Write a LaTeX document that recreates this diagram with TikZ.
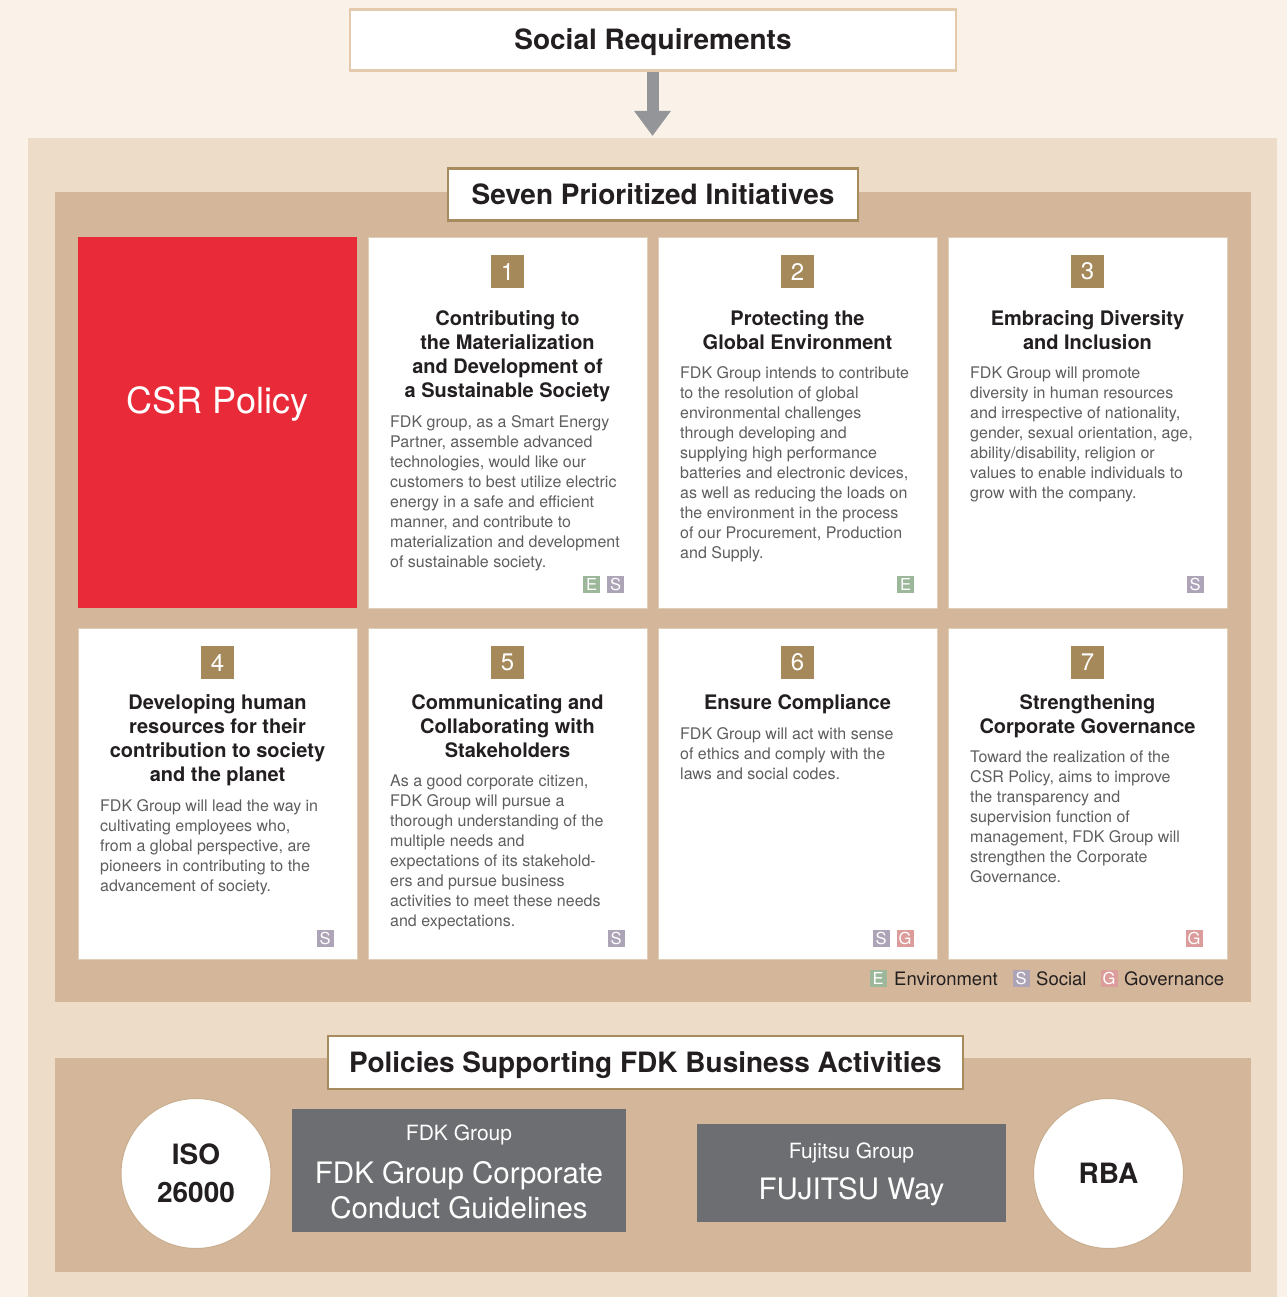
\documentclass[tikz,border=0pt]{standalone}
\usepackage{fontspec}
\setmainfont{TeX Gyre Heros}
\usetikzlibrary{arrows.meta}
\definecolor{bgc}{HTML}{FAF2E8}
\definecolor{outerc}{HTML}{EDDCC8}
\definecolor{tanc}{HTML}{D4B79A}
\definecolor{brownc}{HTML}{A78A5E}
\definecolor{srborder}{HTML}{E3CAAD}
\definecolor{arrowc}{HTML}{939598}
\definecolor{redc}{HTML}{E92A38}
\definecolor{badgec}{HTML}{A6895A}
\definecolor{grayboxc}{HTML}{6D6E71}
\definecolor{ecol}{HTML}{9DB79B}
\definecolor{scol}{HTML}{ADA4B7}
\definecolor{gcol}{HTML}{DC9C9C}
\definecolor{bodyc}{HTML}{5E5E5E}
\definecolor{titlec}{HTML}{231F20}
\definecolor{cardborder}{HTML}{DFCDB7}
\definecolor{circborder}{HTML}{C9AD8E}
\tikzset{
  card/.style={draw=cardborder, line width=1.2pt, fill=white, anchor=north west, minimum width=279pt, minimum height=371pt, inner sep=0pt},
  cardlow/.style={card, minimum height=331pt},
  badge/.style={fill=badgec, minimum size=33pt, inner sep=0pt, text=white, font=\fontsize{24}{24}\selectfont},
  ctitle/.style={anchor=north, inner sep=0pt, align=center, text=titlec, font=\bfseries\fontsize{20}{24}\selectfont},
  body/.style={anchor=north west, inner sep=0pt, align=left, text=bodyc, font=\fontsize{16}{20}\selectfont},
  tag/.style={minimum size=17pt, inner sep=0pt, text height=11.5pt, text depth=0pt, text=white, font=\fontsize{16.5}{16.5}\selectfont},
  legtext/.style={anchor=west, inner sep=0pt, text=titlec, font=\fontsize{18.5}{20}\selectfont},
  headbox/.style={fill=white, draw=brownc, line width=2.5pt, inner sep=0pt, text height=20pt, text depth=0pt, text=titlec, font=\bfseries\fontsize{28}{30}\selectfont},
  graybox/.style={fill=grayboxc, inner sep=0pt, anchor=north west},
  circ/.style={circle, fill=white, draw=circborder, line width=1pt, minimum size=150pt, inner sep=0pt, align=center, text=titlec, font=\bfseries\fontsize{28}{38}\selectfont},
  bigarrow/.style={draw=arrowc, line width=12pt, -{Triangle[width=35pt,length=25pt]}}
}
\begin{document}
\begin{tikzpicture}[x=1pt,y=-1pt]
\useasboundingbox (0,0) rectangle (1287,1297);
\fill[bgc] (0,0) rectangle (1287,1297);
% panels
\fill[outerc] (28,138) rectangle (1277,1297);
\fill[tanc] (55,192) rectangle (1251,1002);
\fill[tanc] (55,1058) rectangle (1251,1272);

% social requirements
\node[fill=white, draw=srborder, line width=2.5pt, minimum width=606pt, minimum height=61pt, inner sep=0pt, text height=20pt, text depth=0pt, text=titlec, font=\bfseries\fontsize{28}{30}\selectfont] (sr) at (653,40) {Social Requirements};
\coordinate (arrtip) at (652.5,136);
\draw[bigarrow] (sr.south -| arrtip) -- (arrtip);

% seven prioritized initiatives
\node[headbox, minimum width=410pt, minimum height=52pt] (spi) at (653,194.5) {Seven Prioritized Initiatives};

% CSR policy
\node[fill=redc, anchor=north west, minimum width=279pt, minimum height=371pt, inner sep=0pt] (csr) at (78,237) {};
\node[text=white, inner sep=0pt, font=\fontsize{36}{36}\selectfont] (csrt) at (217.5,404) {CSR Policy};

% row 1 cards
\node[card] (c1) at (368,237) {};
\node[card] (c2) at (658,237) {};
\node[card] (c3) at (948,237) {};
% row 2 cards
\node[cardlow] (c4) at (78,628) {};
\node[cardlow] (c5) at (368,628) {};
\node[cardlow] (c6) at (658,628) {};
\node[cardlow] (c7) at (948,628) {};

% badges
\node[badge] (b1) at (507.5,271.5) {1};
\node[badge] (b2) at (797.5,271.5) {2};
\node[badge] (b3) at (1087.5,271.5) {3};
\node[badge] (b4) at (217.5,662.5) {4};
\node[badge] (b5) at (507.5,662.5) {5};
\node[badge] (b6) at (797.5,662.5) {6};
\node[badge] (b7) at (1087.5,662.5) {7};

% titles
\node[ctitle] (tt1) at (507.5,310) {Contributing to\\the Materialization\\and Development of\\a Sustainable Society};
\node[ctitle] (tt2) at (797.5,310) {Protecting the\\Global Environment};
\node[ctitle] (tt3) at (1087.5,310) {Embracing Diversity\\and Inclusion};
\node[ctitle] (tt4) at (217.5,694) {Developing human\\resources for their\\contribution to society\\and the planet};
\node[ctitle] (tt5) at (507.5,694) {Communicating and\\Collaborating with\\Stakeholders};
\node[ctitle] (tt6) at (797.5,694) {Ensure Compliance};
\node[ctitle] (tt7) at (1087.5,694) {Strengthening\\Corporate Governance};

% bodies
\node[body] (bd1) at (390,415) {FDK group, as a Smart Energy\\Partner, assemble advanced\\technologies, would like our\\customers to best utilize electric\\energy in a safe and efficient\\manner, and contribute to\\materialization and development\\of sustainable society.};
\node[body] (bd2) at (680,366) {FDK Group intends to contribute\\to the resolution of global\\environmental challenges\\through developing and\\supplying high performance\\batteries and electronic devices,\\as well as reducing the loads on\\the environment in the process\\of our Procurement, Production\\and Supply.};
\node[body] (bd3) at (970,366) {FDK Group will promote\\diversity in human resources\\and irrespective of nationality,\\gender, sexual orientation, age,\\ability/disability, religion or\\values to enable individuals to\\grow with the company.};
\node[body] (bd4) at (100,799) {FDK Group will lead the way in\\cultivating employees who,\\from a global perspective, are\\pioneers in contributing to the\\advancement of society.};
\node[body] (bd5) at (390,775) {As a good corporate citizen,\\FDK Group will pursue a\\thorough understanding of the\\multiple needs and\\expectations of its stakehold-\\ers and pursue business\\activities to meet these needs\\and expectations.};
\node[body] (bd6) at (680,727) {FDK Group will act with sense\\of ethics and comply with the\\laws and social codes.};
\node[body] (bd7) at (970,751) {Toward the realization of the\\CSR Policy, aims to improve\\the transparency and\\supervision function of\\management, FDK Group will\\strengthen the Corporate\\Governance.};

% tags
\node[tag, fill=ecol] (g1e) at (591.5,584.5) {E};
\node[tag, fill=scol] (g1s) at (615.5,584.5) {S};
\node[tag, fill=ecol] (g2e) at (905.5,584.5) {E};
\node[tag, fill=scol] (g3s) at (1195,584.5) {S};
\node[tag, fill=scol] (g4s) at (325,938.5) {S};
\node[tag, fill=scol] (g5s) at (616,938.5) {S};
\node[tag, fill=scol] (g6s) at (881,938.5) {S};
\node[tag, fill=gcol] (g6g) at (905,938.5) {G};
\node[tag, fill=gcol] (g7g) at (1194,938.5) {G};

% legend
\node[tag, fill=ecol] (le) at (878,978.5) {E};
\node[legtext] (let) at (894,978.5) {Environment};
\node[tag, fill=scol] (ls) at (1021,978.5) {S};
\node[legtext] (lst) at (1036,978.5) {Social};
\node[tag, fill=gcol] (lg) at (1109,978.5) {G};
\node[legtext] (lgt) at (1124,978.5) {Governance};

% policies supporting
\node[headbox, minimum width=635pt, minimum height=53pt] (psb) at (645.5,1062.5) {Policies Supporting FDK Business Activities};

\node[circ] (iso) at (196,1173.5) {ISO\\26000};
\node[circ] (rba) at (1108.5,1173.5) {RBA};

\node[graybox, minimum width=334pt, minimum height=123pt] (gb1) at (292,1109) {};
\node[text=white, inner sep=0pt, font=\fontsize{21}{21}\selectfont] (gb1a) at (459,1135) {FDK Group};
\node[text=white, inner sep=0pt, align=center, font=\fontsize{29.5}{35}\selectfont] (gb1b) at (459,1190) {FDK Group Corporate\\Conduct Guidelines};

\node[graybox, minimum width=309pt, minimum height=98pt] (gb2) at (697,1124) {};
\node[text=white, inner sep=0pt, font=\fontsize{21}{21}\selectfont] (gb2a) at (851.5,1153) {Fujitsu Group};
\node[text=white, inner sep=0pt, font=\fontsize{29.5}{30}\selectfont] (gb2b) at (851.5,1192) {FUJITSU Way};
\end{tikzpicture}
\end{document}
